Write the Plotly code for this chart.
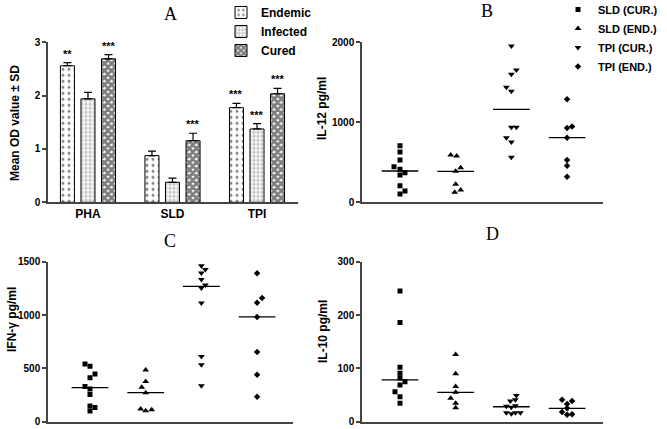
import numpy as np
import plotly.graph_objects as go

W, H = 667, 429

# ---------------- Panel A data ----------------
stimuli = ["PHA", "SLD", "TPI"]
groups = ["Endemic", "Infected", "Cured"]
endemic_od = [2.56, 0.875, 1.775]
endemic_sd = [0.06, 0.085, 0.08]
infected_od = [1.94, 0.375, 1.375]
infected_sd = [0.12, 0.08, 0.10]
cured_od = [2.69, 1.155, 2.035]
cured_sd = [0.08, 0.14, 0.10]
endemic_sig = ["**", "", "***"]
infected_sig = ["", "", "***"]
cured_sig = ["***", "***", "***"]

# ---------------- Scatter panels data ----------------
series_names = ["SLD (CUR.)", "SLD (END.)", "TPI (CUR.)", "TPI (END.)"]

il12_sld_cur = [707, 629, 529, 445, 412, 370, 341, 207, 141, 104]
il12_sld_end = [591, 580, 432, 387, 225, 154, 125]
il12_tpi_cur = [1954, 1654, 1600, 1437, 1387, 937, 937, 808, 754, 562]
il12_tpi_end = [1287, 946, 929, 808, 529, 458, 320]

ifng_sld_cur = [541, 519, 447, 413, 331, 307, 256, 147, 134, 100]
ifng_sld_end = [485, 378, 322, 272, 119, 103, 113]
ifng_tpi_cur = [1463, 1426, 1395, 1332, 1282, 1254, 1113, 612, 535, 338]
ifng_tpi_end = [1391, 1160, 1116, 982, 654, 441, 235]

il10_sld_cur = [245, 186, 102, 91, 82, 75, 69, 56, 47, 34.5]
il10_sld_end = [126, 90, 66, 55, 44, 34.5, 26]
il10_tpi_cur = [49, 41, 39, 30, 29, 27, 17, 15, 17, 17]
il10_tpi_end = [41, 39, 33, 25, 18, 13, 14]

# horizontal jitter of the dots (pixels)
jit_il12 = [[0, 0, 0, -6, 0, 5, 0, 0, 5, 0], [-5, 1, 5, 0, 0, 5, -1],
            [0, 5, 0, -5, 0, 0, 5, -5, 0, 0], [0, 5, 0, 0, 0, 0, 0]]
jit_ifng = [[-5, 0, 5, 0, -5, 0, 0, 0, 5, 0], [0, 0, -4, 0, -5, 0, 6],
            [0, 4, 0, 0, 4, 0, 0, 0, 0, 0], [0, 5, 0, 0, 0, 0, 0]]
jit_il10 = [[0, 0, 0, 0, 0, 5, 0, -5, 0, 0], [0, 0, 0, 0, -5, 0, 0],
            [5, 4, -1, 4, -5, 0, -5, 0, 4, 9], [-5, 5, 0, 0, -5, 0, 5]]

FONT = "Liberation Sans, Arial, sans-serif"
AXC = "#444444"

fig = go.Figure()

# ---------------- Panel A bars ----------------
bar_slot = 0.243
bar_w = 0.166
patterns = [
    dict(shape=".", fgcolor="black", bgcolor="white", size=6, solidity=0.2),
    dict(shape="+", fgcolor="#666666", bgcolor="white", size=4, solidity=0.4),
    dict(shape="x", fgcolor="black", bgcolor="white", size=5, solidity=0.8),
]
bar_vals = [endemic_od, infected_od, cured_od]
bar_sds = [endemic_sd, infected_sd, cured_sd]
bar_sigs = [endemic_sig, infected_sig, cured_sig]
annotations = []
for gi, name in enumerate(groups):
    xs = [i + (gi - 1) * bar_slot for i in range(len(stimuli))]
    fig.add_trace(go.Bar(
        x=xs, y=bar_vals[gi], width=bar_w, name=name,
        marker=dict(color="white", line=dict(color="black", width=1), pattern=patterns[gi]),
        error_y=dict(type="data", array=bar_sds[gi], arrayminus=[0] * len(stimuli),
                     symmetric=False, color="black", thickness=1.2, width=4),
        xaxis="x", yaxis="y", legend="legend",
    ))
    for xv, v, s, sig in zip(xs, bar_vals[gi], bar_sds[gi], bar_sigs[gi]):
        if sig:
            annotations.append(dict(
                x=xv, y=v + s, xref="x", yref="y", text=sig, showarrow=False,
                yanchor="bottom", yshift=1,
                font=dict(family=FONT, size=11, color="black", weight="bold")))

# ---------------- Scatter panels ----------------
symbols = ["square", "triangle-up", "triangle-down", "diamond"]
sizes = [5, 6, 6, 5]
px_per_cat = 55.7
panels = [
    ("x2", "y2", [il12_sld_cur, il12_sld_end, il12_tpi_cur, il12_tpi_end], jit_il12, True),
    ("x3", "y3", [ifng_sld_cur, ifng_sld_end, ifng_tpi_cur, ifng_tpi_end], jit_ifng, False),
    ("x4", "y4", [il10_sld_cur, il10_sld_end, il10_tpi_cur, il10_tpi_end], jit_il10, False),
]
for xa, ya, data, jit, show in panels:
    for si, vals in enumerate(data):
        xs = [si + j / px_per_cat for j in jit[si]]
        fig.add_trace(go.Scatter(
            x=xs, y=vals, mode="markers", name=series_names[si],
            marker=dict(symbol=symbols[si], size=sizes[si], color="black"),
            xaxis=xa, yaxis=ya, showlegend=show, legend="legend2",
        ))
        med = float(np.median(vals))
        fig.add_trace(go.Scatter(
            x=[si - 0.33, si + 0.33], y=[med, med], mode="lines",
            line=dict(color="black", width=1.3), showlegend=False,
            xaxis=xa, yaxis=ya, hoverinfo="skip",
        ))

def dx(a, b):
    return [a / W, b / W]

def dy(top, bottom):
    return [1 - bottom / H, 1 - top / H]

tickfont = dict(family=FONT, size=10, color="black", weight="bold")
yax_common = dict(showline=True, linecolor=AXC, linewidth=1.5, ticks="outside",
                  ticklen=4, tickcolor=AXC, tickwidth=1.5, showgrid=False,
                  zeroline=False, tickfont=tickfont)
xax_common = dict(showline=True, linecolor=AXC, linewidth=1.5, showgrid=False,
                  zeroline=False, ticks="", showticklabels=False)

fig.update_layout(
    width=W, height=H, margin=dict(l=0, r=0, t=0, b=0, autoexpand=False),
    paper_bgcolor="white", plot_bgcolor="white",
    barmode="overlay",
    xaxis=dict(xax_common, domain=dx(48, 298), range=[-0.473, 2.485],
               tickvals=list(range(len(stimuli))), ticktext=stimuli,
               showticklabels=True, anchor="y",
               tickfont=dict(family=FONT, size=12, color="black", weight="bold")),
    yaxis=dict(yax_common, domain=dy(42.3, 202.3), range=[0, 3], tickvals=[0, 1, 2, 3],
               anchor="x"),
    xaxis2=dict(xax_common, domain=dx(362, 603), range=[-0.682, 3.645], anchor="y2"),
    yaxis2=dict(yax_common, domain=dy(42.3, 202.3), range=[0, 2000],
                tickvals=[0, 1000, 2000], anchor="x2"),
    xaxis3=dict(xax_common, domain=dx(48, 293), range=[-0.754, 3.645], anchor="y3"),
    yaxis3=dict(yax_common, domain=dy(261.7, 421.7), range=[0, 1500],
                tickvals=[0, 500, 1000, 1500], anchor="x3"),
    xaxis4=dict(xax_common, domain=dx(362, 603), range=[-0.682, 3.645], anchor="y4"),
    yaxis4=dict(yax_common, domain=dy(261.7, 421.7), range=[0, 300],
                tickvals=[0, 100, 200, 300], anchor="x4"),
    legend=dict(x=221 / W, y=1 + 2 / H, xanchor="left", yanchor="top",
                font=dict(family=FONT, size=12, color="black", weight="bold"),
                bgcolor="rgba(0,0,0,0)", tracegroupgap=0, itemwidth=30),
    legend2=dict(x=558 / W, y=1 + 5 / H, xanchor="left", yanchor="top",
                 font=dict(family=FONT, size=11, color="black", weight="bold"),
                 bgcolor="rgba(0,0,0,0)", tracegroupgap=0, itemwidth=30),
)

# panel letters
for letter, x, y in [("A", 170, 14), ("B", 487, 11), ("C", 170, 241), ("D", 493, 234)]:
    annotations.append(dict(x=x / W, y=1 - y / H, xref="paper", yref="paper", text=letter,
                            showarrow=False, xanchor="center", yanchor="middle",
                            font=dict(family="Liberation Serif, Times New Roman, serif",
                                      size=18, color="black")))
# y-axis titles
for txt, x, y in [("Mean OD value ± SD", 15, 123), ("IL-12 pg/ml", 322, 109),
                  ("IFN-γ pg/ml", 12, 320), ("IL-10 pg/ml", 323, 332)]:
    annotations.append(dict(x=x / W, y=1 - y / H, xref="paper", yref="paper", text=txt,
                            showarrow=False, textangle=-90, xanchor="center", yanchor="middle",
                            font=dict(family=FONT, size=12, color="black", weight="bold")))
fig.update_layout(annotations=annotations)

fig.write_html("out.html", config={"displayModeBar": False},
               post_script="document.body.style.margin='0';")
